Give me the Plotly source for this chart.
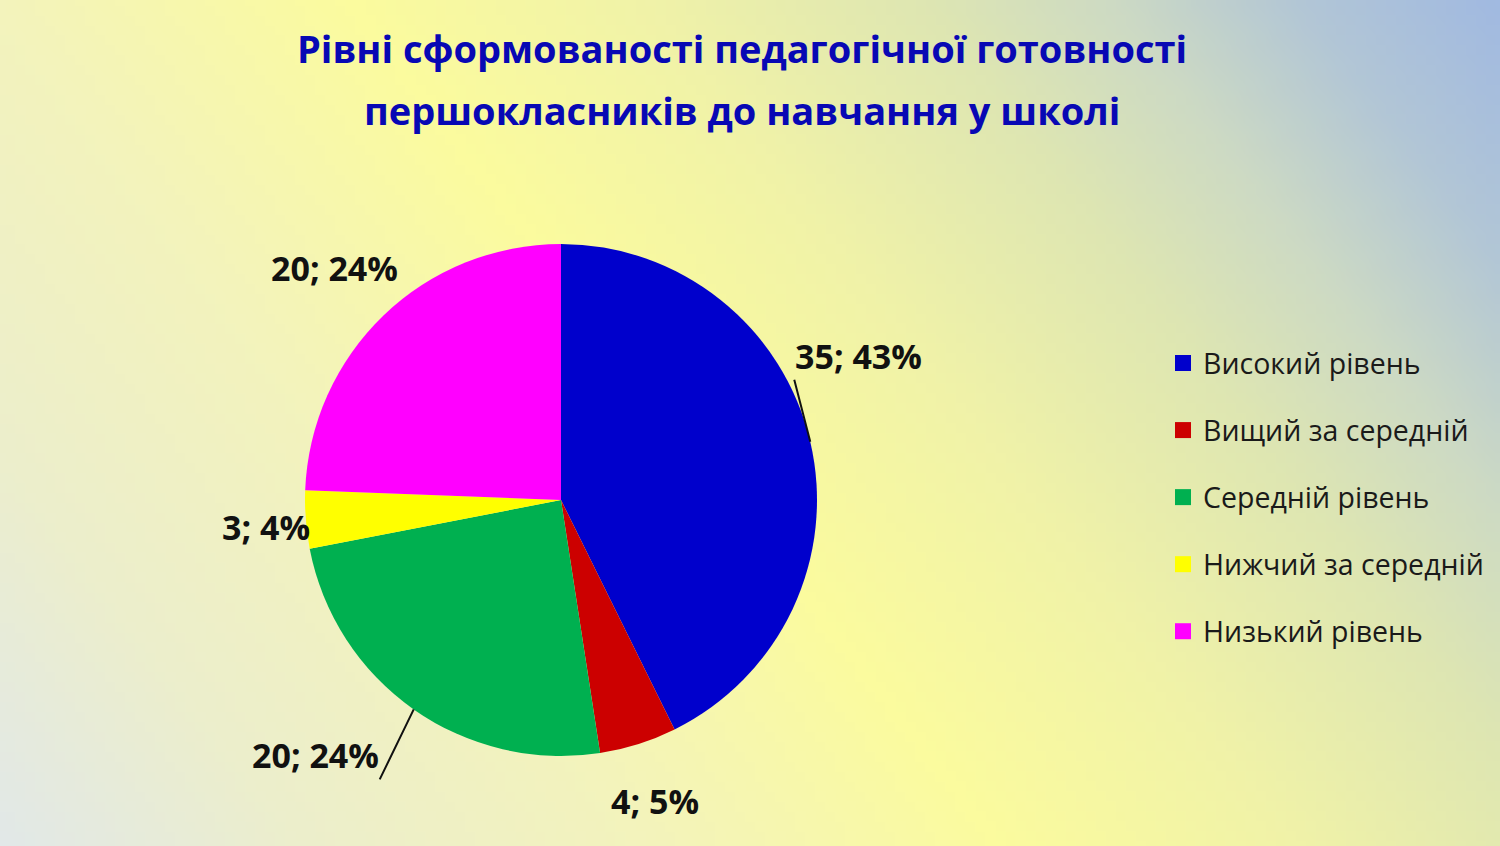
import base64, math, struct, zlib
import plotly.graph_objects as go

# ---------------- data ----------------
categories = ["Високий рівень", "Вищий за середній", "Середній рівень",
              "Нижчий за середній", "Низький рівень"]
values = [35, 4, 20, 3, 20]
colors = ["#0000CC", "#CC0000", "#00B050", "#FFFF00", "#FF00FF"]
title_lines = ["Рівні сформованості педагогічної готовності",
               "першокласників до навчання у школі"]

# ---------------- style: label offsets (px) from slice edge, leader visibility ----------------
label_dx = [-16, 17, -34, -40, -49]
label_dy = [-62, 57, 70, 7, -48]
label_xanchor = ["left", "center", "right", "center", "center"]
label_yanchor = ["bottom", "middle", "bottom", "middle", "middle"]
leader = [True, False, True, False, False]

W, H = 1500, 846

# ---------------- background gradient (style only) ----------------
stops = [(-1100, (222, 230, 242)), (-700, (236, 238, 204)), (-350, (243, 243, 188)),
         (0, (251, 251, 158)), (300, (240, 242, 168)), (573, (222, 230, 178)),
         (760, (205, 218, 196)), (950, (178, 198, 214)), (1200, (156, 182, 228))]

def grad(d):
    if d <= stops[0][0]:
        return stops[0][1]
    for (d0, c0), (d1, c1) in zip(stops, stops[1:]):
        if d <= d1:
            t = (d - d0) / (d1 - d0)
            return tuple(int(round(a + (b - a) * t)) for a, b in zip(c0, c1))
    return stops[-1][1]

gw, gh = 150, 85
rows = []
for j in range(gh):
    y = (j + 0.5) * H / gh
    row = bytearray([0])
    for i in range(gw):
        x = (i + 0.5) * W / gw
        row += bytes(grad(x - (350 + 0.77 * y)))
    rows.append(bytes(row))
raw = b"".join(rows)

def chunk(tag, data):
    c = struct.pack(">I", len(data)) + tag + data
    return c + struct.pack(">I", zlib.crc32(tag + data) & 0xffffffff)

png = (b"\x89PNG\r\n\x1a\n" + chunk(b"IHDR", struct.pack(">IIBBBBB", gw, gh, 8, 2, 0, 0, 0))
       + chunk(b"IDAT", zlib.compress(raw, 9)) + chunk(b"IEND", b""))
bg_uri = "data:image/png;base64," + base64.b64encode(png).decode()

# ---------------- figure ----------------
FONT = "Open Sans"
fig = go.Figure()

cx, cy, r = 561, 500, 256
fig.add_trace(go.Pie(
    labels=categories, values=values, sort=False, direction="clockwise", rotation=0,
    marker=dict(colors=colors, line=dict(width=0)),
    textinfo="none", showlegend=False, hoverinfo="label+value+percent",
    domain=dict(x=[(cx - r) / W, (cx + r) / W], y=[(H - cy - r) / H, (H - cy + r) / H]),
))

# data labels: anchored at the middle of each slice's outer edge
total = sum(values)
cum = 0
for v, dx, dy, xa, ya, ld in zip(values, label_dx, label_dy, label_xanchor, label_yanchor, leader):
    mid = (cum + v / 2) / total * 2 * math.pi
    cum += v
    px = cx + r * math.sin(mid)
    py = cy - r * math.cos(mid)
    fig.add_annotation(
        text=f"<b>{v}; {round(100 * v / total)}%</b>",
        x=px / W, y=1 - py / H, xref="paper", yref="paper",
        showarrow=True, ax=dx, ay=dy, axref="pixel", ayref="pixel",
        xanchor=xa, yanchor=ya, arrowhead=0, arrowwidth=2, borderpad=0,
        arrowcolor="#111111" if ld else "rgba(0,0,0,0)",
        font=dict(family=FONT, size=34, color="#111111"))

for lab, col in zip(categories, colors):
    fig.add_trace(go.Scatter(x=[None], y=[None], mode="markers", name=lab, legendgroup=lab,
                             marker=dict(symbol="square", size=16, color=col)))

for line, yc in zip(title_lines, [48, 110]):
    fig.add_annotation(text=f"<b>{line}</b>", x=742 / W, y=1 - yc / H, xref="paper", yref="paper",
                       xanchor="center", yanchor="middle", showarrow=False,
                       font=dict(family=FONT, size=38, color="#0808B4"))

fig.update_layout(
    width=W, height=H, margin=dict(l=0, r=0, t=0, b=0),
    paper_bgcolor="#F4F4B0", plot_bgcolor="rgba(0,0,0,0)",
    xaxis=dict(visible=False), yaxis=dict(visible=False),
    images=[dict(source=bg_uri, xref="paper", yref="paper", x=0, y=1, sizex=1, sizey=1,
                 sizing="stretch", layer="below")],
    legend=dict(x=1163 / W, y=1 - 338 / H, xanchor="left", yanchor="top",
                bgcolor="rgba(0,0,0,0)", tracegroupgap=27, itemsizing="trace",
                font=dict(family=FONT, size=28.5, color="#1A1A1A")),
    showlegend=True,
)

fig.write_html("out.html", config={"displayModeBar": False},
               post_script="document.body.style.margin='0';")
